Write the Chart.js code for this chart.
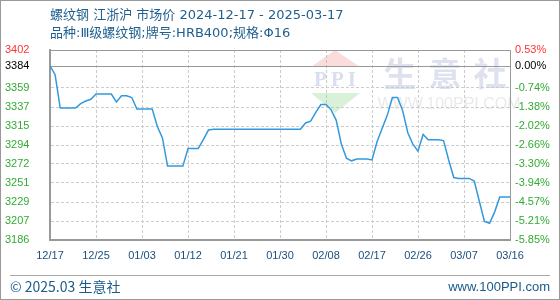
<!DOCTYPE html>
<html>
<head>
<meta charset="utf-8">
<script src="https://cdn.jsdelivr.net/npm/chart.js@4/dist/chart.umd.min.js"></script>
<style>
  html, body { margin: 0; padding: 0; background: #fff; }
  canvas { display: block; }
</style>
</head>
<body>
<canvas id="c" width="560" height="300"></canvas>
<script>
// ---- data ----
const titleLine1 = '螺纹钢 江浙沪 市场价 2024-12-17 - 2025-03-17';
const titleLine2 = '品种:Ⅲ级螺纹钢;牌号:HRB400;规格:Φ16';
const footerLeft = '© 2025.03 生意社';
const footerRight = 'www.100PPI.com';

const xLabels = ['12/17','12/25','01/03','01/12','01/21','01/30','02/08','02/17','02/26','03/07','03/16'];
const xLabelStep = 9;

const yTickValues = [3402, 3384, 3358.8, 3337.2, 3315.6, 3294, 3272.4, 3250.8, 3229.2, 3207.6, 3186];
const yTickLabels = ['3402','3384','3359','3337','3315','3294','3272','3251','3229','3207','3186'];
const pctTickLabels = ['0.53%','0.00%','-0.74%','-1.38%','-2.02%','-2.66%','-3.30%','-3.94%','-4.57%','-5.21%','-5.85%'];

const prices = [
  3384, 3374, 3336, 3336, 3336, 3336, 3341, 3344, 3346, 3352,
  3352, 3352, 3352, 3343, 3350, 3350, 3348, 3335, 3335, 3335,
  3335, 3315, 3302, 3270, 3270, 3270, 3270, 3290, 3290, 3290,
  3300, 3311, 3312, 3312, 3312, 3312, 3312, 3312, 3312, 3312,
  3312, 3312, 3312, 3312, 3312, 3312, 3312, 3312, 3312, 3312,
  3319, 3321, 3331, 3340, 3340, 3334, 3322, 3295, 3279, 3276,
  3278, 3278, 3278, 3277, 3298, 3313, 3328, 3348, 3348, 3333,
  3308, 3295, 3287, 3306, 3300, 3300, 3300, 3299, 3277, 3257,
  3256, 3256, 3256, 3253, 3230, 3207, 3205, 3218, 3235, 3235,
  3235
];
const basePrice = prices[0];

// ---- styles ----
const tickFont = { family: '"Liberation Sans", Arial, sans-serif', size: 11 };
const gridColor = '#cccccc';
const frameColor = '#999999';

function yLabelColor(i) {
  if (i === 0) return '#ff3333';
  if (i === 1) return '#000000';
  return '#33aa33';
}

const decor = {
  id: 'decor',
  beforeDraw(chart) {
    const ctx = chart.ctx;
    ctx.save();
    ctx.fillStyle = '#ffffff';
    ctx.fillRect(0, 0, chart.width, chart.height);
    ctx.restore();
  },
  beforeDatasetsDraw(chart) {
    const ctx = chart.ctx;
    const a = chart.chartArea;
    const ox = a.left, oy = a.top;
    ctx.save();
    // logo: red triangle
    ctx.fillStyle = 'rgba(240,140,140,0.30)';
    ctx.beginPath();
    ctx.moveTo(ox + 285, oy + 0);
    ctx.lineTo(ox + 310, oy + 17);
    ctx.lineTo(ox + 261, oy + 17);
    ctx.closePath();
    ctx.fill();
    // green triangle
    ctx.fillStyle = 'rgba(130,210,130,0.30)';
    ctx.beginPath();
    ctx.moveTo(ox + 261, oy + 43);
    ctx.lineTo(ox + 310, oy + 43);
    ctx.lineTo(ox + 285, oy + 63);
    ctx.closePath();
    ctx.fill();
    // PPI
    ctx.fillStyle = 'rgba(170,185,220,0.45)';
    ctx.font = 'bold 21px "Liberation Serif", serif';
    ctx.textAlign = 'center';
    ctx.textBaseline = 'middle';
    try { ctx.letterSpacing = '4px'; } catch (e) {}
    ctx.fillText('PPI', ox + 287, oy + 31);
    try { ctx.letterSpacing = '0px'; } catch (e) {}
    // 生意社
    ctx.fillStyle = 'rgba(190,198,222,0.50)';
    ctx.font = 'bold 33px "Noto Sans CJK SC", sans-serif';
    const chars = ['生', '意', '社'];
    const cx = [350, 395, 440];
    chars.forEach((ch, i) => ctx.fillText(ch, ox + cx[i], oy + 23));
    // url watermark
    ctx.fillStyle = 'rgba(200,200,200,0.40)';
    ctx.font = '16px "Liberation Sans", Arial, sans-serif';
    ctx.fillText('WWW.100PPI.COM', ox + 399, oy + 55);
    // base price line
    const yScale = chart.scales.y;
    const yb = Math.round(yScale.getPixelForValue(basePrice)) + 0.5;
    ctx.strokeStyle = frameColor;
    ctx.lineWidth = 1;
    ctx.beginPath();
    ctx.moveTo(a.left, yb);
    ctx.lineTo(a.right, yb);
    ctx.stroke();
    ctx.restore();
  },
  afterDraw(chart) {
    const ctx = chart.ctx;
    const a = chart.chartArea;
    ctx.save();
    // plot frame top/right
    ctx.strokeStyle = frameColor;
    ctx.lineWidth = 1;
    ctx.beginPath();
    ctx.moveTo(a.left, a.top + 0.5);
    ctx.lineTo(a.right + 0.5, a.top + 0.5);
    ctx.lineTo(a.right + 0.5, a.bottom);
    ctx.stroke();
    // titles
    ctx.fillStyle = '#1f5f8f';
    ctx.font = '13px "DejaVu Sans", "Noto Sans CJK SC", sans-serif';
    ctx.textAlign = 'left';
    ctx.textBaseline = 'middle';
    ctx.fillText(titleLine1, 50, 16);
    ctx.fillText(titleLine2, 50, 34);
    // footer
    ctx.strokeStyle = '#aaaaaa';
    ctx.beginPath();
    ctx.moveTo(10, 275.5);
    ctx.lineTo(550, 275.5);
    ctx.stroke();
    ctx.fillStyle = '#1a5a8a';
    ctx.font = '14px "Noto Sans CJK SC", sans-serif';
    ctx.fillText(footerLeft, 10, 287);
    ctx.textAlign = 'right';
    ctx.font = '13px "Liberation Sans", Arial, sans-serif';
    ctx.fillText(footerRight, 550, 287);
    // outer frame
    ctx.strokeStyle = frameColor;
    ctx.strokeRect(0.5, 0.5, chart.width - 1, chart.height - 1);
    ctx.restore();
  }
};

new Chart(document.getElementById('c'), {
  type: 'line',
  data: {
    datasets: [{
      data: prices.map((v, i) => ({ x: i, y: v })),
      borderColor: '#3399dd',
      borderWidth: 1.5,
      pointRadius: 0,
      tension: 0,
      fill: false
    }]
  },
  options: {
    responsive: false,
    animation: false,
    devicePixelRatio: 1,
    layout: { padding: { left: 5, right: 0, top: 50, bottom: 40 } },
    plugins: { legend: { display: false }, tooltip: { enabled: false } },
    scales: {
      x: {
        type: 'linear',
        min: 0,
        max: prices.length - 1,
        afterBuildTicks(s) { s.ticks = xLabels.map((_, i) => ({ value: i * xLabelStep })); },
        afterFit(s) { s.height = 20; },
        ticks: {
          autoSkip: false, maxRotation: 0, padding: 9,
          font: tickFont, color: '#1a4f80',
          callback: (v, i) => xLabels[i]
        },
        grid: { color: gridColor, drawTicks: false, lineWidth: 1 },
        border: { display: true, color: frameColor, width: 2, dash: [3, 2] }
      },
      y: {
        position: 'left',
        min: yTickValues[yTickValues.length - 1],
        max: yTickValues[0],
        afterBuildTicks(s) { s.ticks = yTickValues.map(v => ({ value: v })); },
        afterFit(s) { s.width = 45; },
        ticks: {
          crossAlign: 'far', padding: 4,
          font: tickFont,
          color: (c) => yLabelColor(c.index),
          callback: (v, i) => yTickLabels[i]
        },
        grid: {
          color: (c) => (c.index === 1 ? 'rgba(0,0,0,0)' : gridColor),
          drawTicks: false, lineWidth: 1
        },
        border: { display: true, color: frameColor, width: 2, dash: [3, 2] }
      },
      y2: {
        position: 'right',
        min: yTickValues[yTickValues.length - 1],
        max: yTickValues[0],
        afterBuildTicks(s) { s.ticks = yTickValues.map(v => ({ value: v })); },
        afterFit(s) { s.width = 50; },
        ticks: {
          crossAlign: 'near', padding: 5,
          font: tickFont,
          color: (c) => yLabelColor(c.index),
          callback: (v, i) => pctTickLabels[i]
        },
        grid: { display: false, drawTicks: false },
        border: { display: false }
      }
    }
  },
  plugins: [decor]
});
</script>
</body>
</html>
